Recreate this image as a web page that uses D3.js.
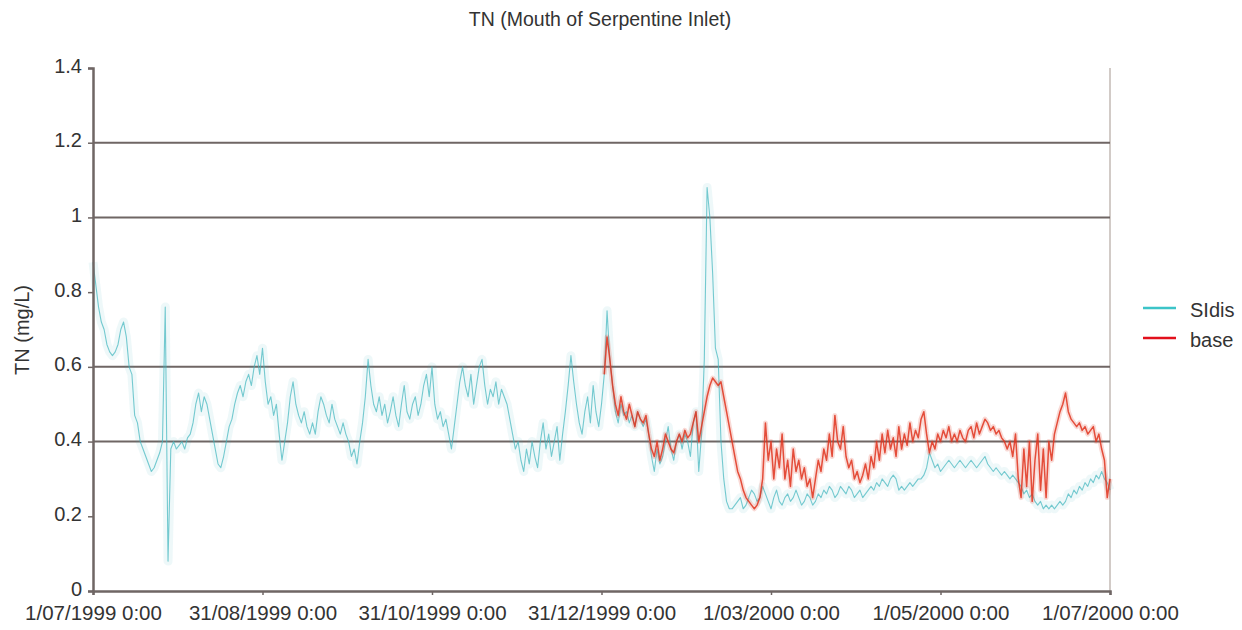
<!DOCTYPE html>
<html><head><meta charset="utf-8">
<script src="https://cdn.jsdelivr.net/npm/d3@7"></script>
<style>
body{margin:0;background:#fff;}
text{font-family:"Liberation Sans",Arial,Helvetica,sans-serif;fill:#333;}
</style></head>
<body><svg id="c" width="1242" height="630"></svg>
<script>
// ---- data ----
const title = "TN (Mouth of Serpentine Inlet)";
const yLabel = "TN (mg/L)";
const seriesNames = ["SIdis", "base"];
const startDate = "1999-07-01";      // first daily value of SIdis
const baseStartDate = "2000-01-01";  // first daily value of base
const xTickLabels = ["1/07/1999 0:00","31/08/1999 0:00","31/10/1999 0:00","31/12/1999 0:00","1/03/2000 0:00","1/05/2000 0:00","1/07/2000 0:00"];
const xTickDates = ["1999-07-01","1999-08-31","1999-10-31","1999-12-31","2000-03-01","2000-05-01","2000-07-01"];
const yTicks = [0,0.2,0.4,0.6,0.8,1,1.2,1.4];
const yGrid = [0.4,0.6,1,1.2];

// SIdis, one value per day from 1/07/1999
const sidis = [
0.88,0.82,0.76,0.72,0.70,0.66,0.64,0.63,0.64,0.66,
0.70,0.72,0.68,0.60,0.58,0.47,0.45,0.40,0.38,0.36,
0.34,0.32,0.33,0.35,0.37,0.40,0.76,0.08,0.38,0.40,
0.38,0.39,0.40,0.38,0.41,0.42,0.45,0.50,0.53,0.48,
0.52,0.50,0.46,0.42,0.38,0.34,0.33,0.36,0.40,0.44,
0.46,0.50,0.53,0.55,0.52,0.56,0.58,0.55,0.60,0.63,
0.58,0.65,0.56,0.50,0.52,0.47,0.50,0.42,0.35,0.40,
0.45,0.52,0.56,0.50,0.47,0.45,0.48,0.44,0.42,0.45,
0.42,0.48,0.52,0.50,0.47,0.45,0.50,0.46,0.44,0.42,
0.45,0.42,0.40,0.36,0.38,0.34,0.40,0.45,0.52,0.62,
0.55,0.50,0.48,0.52,0.47,0.50,0.45,0.48,0.52,0.47,
0.44,0.50,0.55,0.48,0.46,0.50,0.52,0.47,0.50,0.55,
0.58,0.52,0.60,0.50,0.46,0.48,0.44,0.46,0.42,0.38,
0.44,0.50,0.56,0.60,0.55,0.52,0.58,0.50,0.55,0.60,
0.62,0.55,0.50,0.54,0.52,0.56,0.50,0.54,0.52,0.50,
0.46,0.42,0.38,0.40,0.35,0.32,0.38,0.34,0.40,0.36,
0.33,0.40,0.45,0.38,0.42,0.36,0.40,0.44,0.35,0.42,
0.48,0.55,0.63,0.56,0.50,0.45,0.42,0.48,0.52,0.45,
0.55,0.48,0.44,0.50,0.58,0.75,0.62,0.55,0.48,0.45,
0.50,0.47,0.48,0.45,0.47,0.44,0.48,0.46,0.44,0.46,
0.42,0.36,0.32,0.38,0.34,0.36,0.40,0.44,0.38,0.35,
0.40,0.42,0.38,0.42,0.40,0.36,0.45,0.48,0.32,0.42,
0.62,1.08,1.00,0.85,0.65,0.62,0.40,0.30,0.24,0.22,
0.22,0.23,0.24,0.25,0.22,0.23,0.25,0.27,0.26,0.24,
0.25,0.28,0.26,0.24,0.22,0.25,0.27,0.24,0.23,0.25,
0.26,0.24,0.25,0.27,0.25,0.23,0.24,0.26,0.25,0.23,
0.24,0.26,0.25,0.27,0.26,0.28,0.27,0.25,0.26,0.28,
0.27,0.26,0.28,0.27,0.25,0.26,0.27,0.25,0.26,0.27,
0.28,0.27,0.29,0.28,0.30,0.29,0.28,0.30,0.31,0.30,
0.27,0.28,0.27,0.28,0.29,0.28,0.29,0.30,0.30,0.31,
0.33,0.37,0.35,0.33,0.34,0.32,0.33,0.34,0.35,0.34,
0.33,0.34,0.35,0.34,0.33,0.34,0.35,0.34,0.33,0.34,
0.35,0.36,0.34,0.33,0.32,0.33,0.32,0.31,0.32,0.31,
0.30,0.31,0.30,0.29,0.28,0.26,0.27,0.25,0.26,0.24,
0.23,0.24,0.22,0.23,0.22,0.23,0.22,0.23,0.24,0.23,
0.24,0.26,0.25,0.27,0.26,0.28,0.27,0.29,0.28,0.30,
0.29,0.31,0.30,0.32,0.30,0.29,0.27
];

// base, one value per day from 1/01/2000
const base = [
0.58,0.68,0.62,0.55,0.50,0.47,
0.52,0.48,0.46,0.50,0.47,0.44,0.48,0.46,0.45,0.47,
0.42,0.38,0.36,0.40,0.35,0.38,0.42,0.40,0.38,0.37,
0.40,0.42,0.40,0.43,0.41,0.42,0.45,0.48,0.40,0.44,
0.48,0.52,0.55,0.57,0.56,0.55,0.56,0.52,0.48,0.44,
0.40,0.36,0.32,0.30,0.27,0.25,0.24,0.23,0.22,0.23,
0.25,0.30,0.45,0.35,0.40,0.30,0.38,0.33,0.42,0.30,
0.35,0.28,0.38,0.32,0.35,0.30,0.33,0.28,0.30,0.25,
0.30,0.35,0.32,0.38,0.35,0.42,0.36,0.47,0.40,0.38,
0.44,0.36,0.33,0.35,0.30,0.32,0.29,0.31,0.34,0.30,
0.36,0.33,0.40,0.35,0.42,0.37,0.43,0.38,0.41,0.36,
0.44,0.38,0.42,0.39,0.45,0.40,0.43,0.41,0.46,0.48,
0.42,0.37,0.40,0.38,0.42,0.40,0.43,0.41,0.44,0.40,
0.42,0.40,0.43,0.41,0.40,0.43,0.44,0.41,0.45,0.42,
0.44,0.46,0.45,0.43,0.44,0.42,0.43,0.41,0.40,0.38,
0.40,0.36,0.42,0.30,0.25,0.38,0.28,0.40,0.24,0.35,
0.42,0.27,0.38,0.25,0.40,0.35,0.42,0.45,0.48,0.50,
0.53,0.48,0.46,0.45,0.44,0.45,0.43,0.44,0.42,0.43,
0.44,0.40,0.42,0.38,0.35,0.25,0.30
];

// ---- chart ----
(function(){
const svg = d3.select("#c");
const parse = d3.utcParse("%Y-%m-%d");
const mLeft = 93, mRight = 1110, mTop = 68, mBottom = 591;
const x = d3.scaleUtc().domain([parse("1999-07-01"), parse("2000-07-01")]).range([mLeft, mRight]);
const y = d3.scaleLinear().domain([0, 1.4]).range([mBottom, mTop]);

const s0 = parse(startDate), b0 = parse(baseStartDate);
const sData = sidis.map((v,i)=>({d:d3.utcDay.offset(s0,i), v}));
const bData = base.map((v,i)=>({d:d3.utcDay.offset(b0,i), v}));

const axisCol = "#6f6664";
const font = "'Liberation Sans',Arial,sans-serif";

svg.append("text").attr("x",600).attr("y",26).attr("text-anchor","middle")
  .attr("font-size",19.5).text(title);

svg.append("text").attr("transform","translate(29,330) rotate(-90)")
  .attr("text-anchor","middle").attr("font-size",20).text(yLabel);

svg.append("line").attr("x1",mRight).attr("x2",mRight).attr("y1",mTop).attr("y2",mBottom)
  .attr("stroke","#d2cbc7").attr("stroke-width",2);

svg.append("g").selectAll("line").data(yGrid).join("line")
  .attr("x1",mLeft).attr("x2",mRight).attr("y1",d=>y(d)).attr("y2",d=>y(d))
  .attr("stroke",axisCol).attr("stroke-width",2);

const line = d3.line().x(d=>x(d.d)).y(d=>y(d.v)).curve(d3.curveLinear);
const teal = "#3fb5bd", red = "#e0341e";
const g = svg.append("g");
g.append("path").datum(sData).attr("d",line).attr("fill","none")
  .attr("stroke",teal).attr("stroke-opacity",0.09).attr("stroke-width",9).attr("stroke-linejoin","round");
g.append("path").datum(sData).attr("d",line).attr("fill","none")
  .attr("stroke",teal).attr("stroke-opacity",0.7).attr("stroke-width",1.1).attr("stroke-linejoin","round");
g.append("path").datum(bData).attr("d",line).attr("fill","none")
  .attr("stroke",red).attr("stroke-opacity",0.18).attr("stroke-width",5).attr("stroke-linejoin","round");
g.append("path").datum(bData).attr("d",line).attr("fill","none")
  .attr("stroke",red).attr("stroke-opacity",0.85).attr("stroke-width",1.5).attr("stroke-linejoin","round");

const yAxis = d3.axisLeft(y).tickValues(yTicks).tickSize(5).tickPadding(6)
  .tickFormat(d=>d3.format("~g")(d));
const ya = svg.append("g").attr("transform",`translate(${mLeft},0)`).call(yAxis);
ya.select(".domain").attr("stroke",axisCol).attr("stroke-width",2.5);
ya.selectAll(".tick line").attr("stroke",axisCol).attr("stroke-width",1.5);
ya.selectAll(".tick text").attr("font-size",20).attr("fill","#333").attr("dy","0.2em")
  .style("font-family",font);

const xAxis = d3.axisBottom(x).tickValues(xTickDates.map(parse)).tickSize(4).tickPadding(10)
  .tickFormat((d,i)=>xTickLabels[i]);
const xa = svg.append("g").attr("transform",`translate(0,${mBottom})`).call(xAxis);
xa.select(".domain").attr("stroke",axisCol).attr("stroke-width",2.5);
xa.selectAll(".tick line").attr("stroke",axisCol).attr("stroke-width",1.5);
xa.selectAll(".tick text").attr("font-size",20.5).attr("fill","#333")
  .style("font-family",font);

const legColors = ["#3cc4c8", "#e2101c"];
const lg = svg.append("g");
seriesNames.forEach((n,i)=>{
  const yy = 308 + i*30;
  lg.append("line").attr("x1",1143).attr("x2",1176).attr("y1",yy).attr("y2",yy)
    .attr("stroke",legColors[i]).attr("stroke-width",2.5);
  lg.append("text").attr("x",1190).attr("y",yy+9).attr("font-size",20).text(n);
});
})();
</script></body></html>
